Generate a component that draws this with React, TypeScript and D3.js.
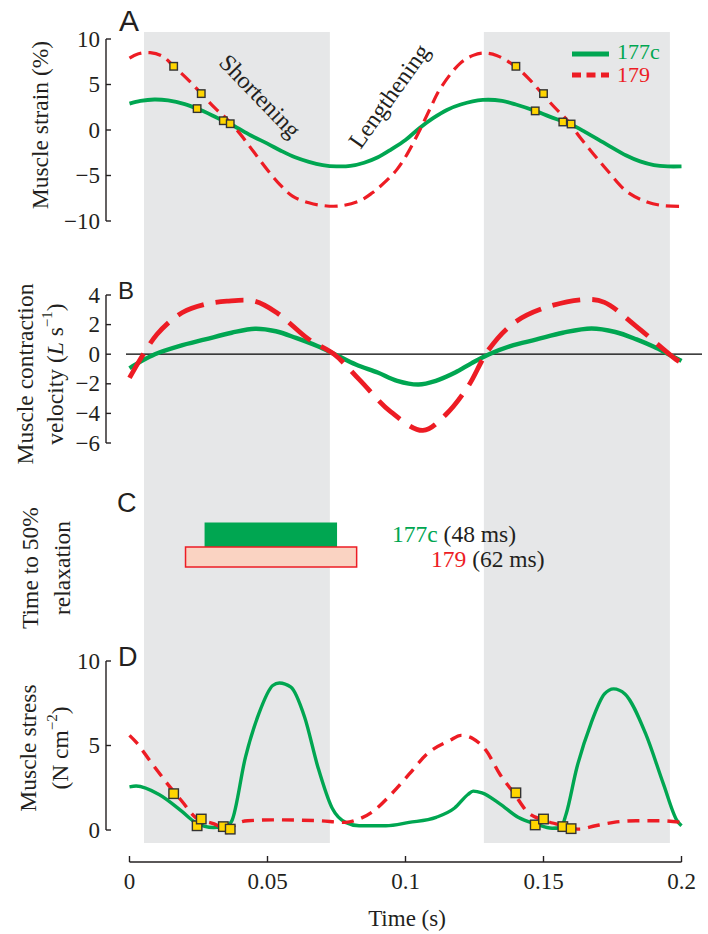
import React from "react";
import * as d3 from "d3";

// ---------- data ----------
const TIME_TICKS = [0, 0.05, 0.1, 0.15, 0.2];
const TIME_TICK_LABELS = ["0", "0.05", "0.1", "0.15", "0.2"];
const SHORTENING_PHASES: [number, number][] = [
  [0.00525, 0.0726],
  [0.1284, 0.1958],
];

const STRAIN_TICKS = [10, 5, 0, -5, -10];
const VELOCITY_TICKS = [4, 2, 0, -2, -4, -6];
const STRESS_TICKS = [10, 5, 0];

const STRAIN_177C: [number, number][] = [
  [0, 2.9], [0.004, 3.2], [0.009, 3.35], [0.014, 3.25], [0.02, 2.85], [0.0245, 2.35],
  [0.03, 1.6], [0.034, 1.0], [0.0375, 0.5], [0.044, -0.6], [0.05, -1.5], [0.055, -2.3],
  [0.06, -3.0], [0.065, -3.5], [0.07, -3.85], [0.075, -4.0], [0.08, -3.95], [0.085, -3.6],
  [0.09, -3.0], [0.095, -2.1], [0.1, -1.1], [0.105, 0.2], [0.11, 1.3], [0.115, 2.2],
  [0.12, 2.8], [0.128, 3.3], [0.135, 3.2], [0.14, 2.8], [0.147, 2.1], [0.152, 1.5],
  [0.157, 0.95], [0.16, 0.6], [0.165, -0.2], [0.173, -1.6], [0.18, -2.8], [0.185, -3.45],
  [0.19, -3.85], [0.195, -4.0], [0.2, -4.0],
];

const STRAIN_179: [number, number][] = [
  [0, 7.9], [0.003, 8.35], [0.0075, 8.5], [0.012, 8.1], [0.016, 7.0], [0.021, 5.6],
  [0.026, 4.0], [0.031, 2.4], [0.0353, 1.2], [0.04, -0.4], [0.045, -2.4], [0.05, -4.4],
  [0.0545, -6.0], [0.0592, -7.3], [0.065, -8.0], [0.07, -8.3], [0.076, -8.35],
  [0.0833, -7.8], [0.088, -6.9], [0.093, -5.6], [0.097, -4.3], [0.1007, -2.6],
  [0.1047, -0.3], [0.109, 2.4], [0.1125, 4.5], [0.1197, 7.3], [0.1245, 8.2],
  [0.1281, 8.45], [0.133, 8.2], [0.1397, 7.0], [0.1448, 5.6], [0.1495, 4.0],
  [0.154, 2.5], [0.1585, 1.1], [0.1632, -0.8], [0.168, -2.6], [0.173, -4.4],
  [0.1803, -6.8], [0.1875, -7.9], [0.193, -8.3], [0.2, -8.4],
];

const VELOCITY_177C: [number, number][] = [
  [0, -0.95], [0.004, -0.5], [0.0092, 0], [0.018, 0.55], [0.0274, 1.0], [0.037, 1.45],
  [0.0455, 1.72], [0.053, 1.55], [0.0603, 1.1], [0.068, 0.55], [0.0743, 0], [0.082, -0.7],
  [0.0899, -1.24], [0.097, -1.8], [0.1047, -2.05], [0.111, -1.8], [0.118, -1.24],
  [0.124, -0.6], [0.1303, 0], [0.138, 0.55], [0.1475, 1.0], [0.157, 1.45], [0.1674, 1.74],
  [0.176, 1.5], [0.1837, 1.0], [0.19, 0.5], [0.1953, 0], [0.2, -0.45],
];

const VELOCITY_179: [number, number][] = [
  [0, -1.6], [0.0099, 1.33], [0.019, 2.8], [0.027, 3.35], [0.0353, 3.58], [0.0453, 3.58],
  [0.0534, 2.8], [0.065, 1.0], [0.0741, 0], [0.0832, -1.7], [0.0947, -3.9], [0.1063, -5.15],
  [0.1145, -4.1], [0.1226, -2.2], [0.1301, 0.3], [0.1392, 2.1], [0.1507, 3.15],
  [0.1654, 3.7], [0.1721, 3.5], [0.1835, 1.9], [0.1984, -0.4], [0.2, -0.55],
];

const STRESS_177C: [number, number][] = [
  [0, 2.55], [0.0024, 2.6], [0.0107, 2.1], [0.019, 1.1], [0.0239, 0.45], [0.0305, 0.15],
  [0.0353, 0.25], [0.0371, 0.55], [0.042, 4.3], [0.0469, 6.9], [0.0519, 8.55],
  [0.0543, 8.7], [0.0585, 8.45], [0.0634, 6.7], [0.0683, 3.7], [0.0734, 1.3],
  [0.0783, 0.45], [0.0832, 0.25], [0.0929, 0.25], [0.1013, 0.45], [0.1111, 0.75],
  [0.1178, 1.3], [0.1226, 2.1], [0.1245, 2.3], [0.1277, 2.2], [0.1342, 1.55],
  [0.1408, 0.75], [0.1473, 0.35], [0.1531, 0.1], [0.1563, 0.15], [0.1582, 0.95],
  [0.1621, 3.7], [0.1672, 6.3], [0.1721, 8.05], [0.1754, 8.35], [0.1795, 8.05],
  [0.187, 5.7], [0.1935, 2.7], [0.1984, 0.55], [0.2, 0.25],
];

const STRESS_179: [number, number][] = [
  [0, 5.6], [0.0024, 5.2], [0.0074, 4.1], [0.0139, 2.7], [0.019, 1.7], [0.0239, 0.75],
  [0.0321, 0.25], [0.0353, -0.15], [0.0386, 0.35], [0.0428, 0.55], [0.0519, 0.6],
  [0.0683, 0.55], [0.0783, 0.45], [0.0832, 0.65], [0.0882, 1.1], [0.0947, 2.1],
  [0.1013, 3.3], [0.1078, 4.5], [0.1161, 5.3], [0.1201, 5.6], [0.1245, 5.4],
  [0.1292, 4.7], [0.1342, 3.3], [0.1392, 2.2], [0.144, 1.1], [0.1507, 0.55],
  [0.1573, 0.25], [0.163, 0.05], [0.1688, 0.25], [0.1754, 0.45], [0.1835, 0.55],
  [0.1918, 0.55], [0.2, 0.45],
];

const MARKER_T = [0.016, 0.0245, 0.026, 0.034, 0.0365, 0.14, 0.147, 0.15, 0.157, 0.16];
const MARKER_STRAIN = [7.0, 2.35, 4.0, 1.02, 0.69, 7.0, 2.1, 4.0, 0.88, 0.66];
const MARKER_STRESS = [2.15, 0.25, 0.65, 0.2, 0.05, 2.2, 0.3, 0.65, 0.2, 0.08];

const SERIES = ["177c", "179"];
const RELAX_START = [0.0272, 0.0203];
const RELAX_MS = [48, 62];

// ---------- style ----------
const GREEN = "#00a651";
const RED = "#ed1c24";
const PINK = "#fad3c2";
const SHADE = "#e6e7e8";
const INK = "#231f20";
const YELLOW = "#ffd500";
const SERIF = "Liberation Serif, Times New Roman, serif";
const SANS = "Liberation Sans, Arial, sans-serif";

export default function App() {
  const x = d3.scaleLinear().domain([0, 0.2]).range([129.5, 681.5]);
  const yA = d3.scaleLinear().domain([-10, 10]).range([221, 39]);
  const yB = d3.scaleLinear().domain([-6, 4]).range([443, 295]);
  const yD = d3.scaleLinear().domain([0, 10]).range([830, 661]);

  const mk = (y: d3.ScaleLinear<number, number>, curve: d3.CurveFactory) =>
    d3
      .line<[number, number]>()
      .x((d) => x(d[0]))
      .y((d) => y(d[1]))
      .curve(curve);

  const lineA = mk(yA, d3.curveCatmullRom.alpha(0.5));
  const lineB = mk(yB, d3.curveCatmullRom.alpha(0.5));
  const lineD = mk(yD, d3.curveMonotoneX);

  const axisX = 106;

  const yAxis = (
    y: d3.ScaleLinear<number, number>,
    ticks: number[],
    key: string
  ) => {
    const [lo, hi] = y.domain();
    return (
      <g key={key}>
        <line x1={axisX} x2={axisX} y1={y(hi)} y2={y(lo)} stroke={INK} strokeWidth={1.4} />
        {ticks.map((t) => (
          <g key={t}>
            <line x1={axisX} x2={axisX + 5} y1={y(t)} y2={y(t)} stroke={INK} strokeWidth={1.4} />
            <text
              x={axisX - 6}
              y={y(t)}
              textAnchor="end"
              dominantBaseline="central"
              fontFamily={SERIF}
              fontSize={23}
              fill={INK}
            >
              {t < 0 ? "\u2212" + Math.abs(t) : String(t)}
            </text>
          </g>
        ))}
      </g>
    );
  };

  const markers = (
    y: d3.ScaleLinear<number, number>,
    vals: number[],
    size: number,
    key: string
  ) => (
    <g key={key}>
      {MARKER_T.map((t, i) => (
        <rect
          key={i}
          x={x(t) - size / 2}
          y={y(vals[i]) - size / 2}
          width={size}
          height={size}
          fill={YELLOW}
          stroke="#333"
          strokeWidth={1.4}
        />
      ))}
    </g>
  );

  const rotTitle = (lines: React.ReactNode[], xs: number[], cy: number, key: string) => (
    <g key={key}>
      {lines.map((l, i) => (
        <text
          key={i}
          transform={`translate(${xs[i]},${cy}) rotate(-90)`}
          textAnchor="middle"
          dominantBaseline="central"
          fontFamily={SERIF}
          fontSize={23.5}
          fill={INK}
        >
          {l}
        </text>
      ))}
    </g>
  );

  const letter = (s: string, lx: number, ly: number, size: number) => (
    <text x={lx} y={ly} fontFamily={SANS} fontSize={size} fill={INK}>
      {s}
    </text>
  );

  return (
    <div style={{ position: "absolute", left: 0, top: 0 }}>
      <svg width={708} height={934} style={{ display: "block", background: "#fff" }}>
        {/* shading */}
        {SHORTENING_PHASES.map(([a, b], i) => (
          <rect key={i} x={x(a)} y={32} width={x(b) - x(a)} height={843 - 32} fill={SHADE} />
        ))}

        {/* panel letters */}
        {letter("A", 119, 31, 30)}
        {letter("B", 118, 299, 24)}
        {letter("C", 117, 512, 27)}
        {letter("D", 118, 666, 27)}

        {/* Panel A */}
        {yAxis(yA, STRAIN_TICKS, "ya")}
        {rotTitle(["Muscle strain (%)"], [40], 125, "ta")}
        <path d={lineA(STRAIN_177C) || ""} fill="none" stroke={GREEN} strokeWidth={3.8} />
        <path
          d={lineA(STRAIN_179) || ""}
          fill="none"
          stroke={RED}
          strokeWidth={3.2}
          strokeDasharray="13 7"
        />
        {markers(yA, MARKER_STRAIN, 7.5, "ma")}
        <text
          transform="translate(260,96) rotate(46)"
          textAnchor="middle"
          dominantBaseline="central"
          fontFamily={SERIF}
          fontSize={24}
          fill={INK}
        >
          Shortening
        </text>
        <text
          transform="translate(389,96) rotate(-54.6)"
          textAnchor="middle"
          dominantBaseline="central"
          fontFamily={SERIF}
          fontSize={24}
          fill={INK}
        >
          Lengthening
        </text>
        {/* legend */}
        <line x1={572} x2={609} y1={54} y2={54} stroke={GREEN} strokeWidth={5} />
        <line
          x1={572}
          x2={609}
          y1={75}
          y2={75}
          stroke={RED}
          strokeWidth={5}
          strokeDasharray="9 5.5"
        />
        <text x={617} y={59} fontFamily={SERIF} fontSize={22} fill={GREEN}>
          {SERIES[0]}
        </text>
        <text x={617} y={82} fontFamily={SERIF} fontSize={22} fill={RED}>
          {SERIES[1]}
        </text>

        {/* Panel B */}
        {yAxis(yB, VELOCITY_TICKS, "yb")}
        {rotTitle(
          [
            "Muscle contraction",
            <>
              velocity (<tspan fontStyle="italic">L</tspan> s
              <tspan dy={-8} fontSize={15}>
                {"\u22121"}
              </tspan>
              <tspan dy={8}>)</tspan>
            </>,
          ],
          [25, 55],
          374,
          "tb"
        )}
        <line x1={126} x2={702} y1={yB(0)} y2={yB(0)} stroke="#000" strokeWidth={1.2} />
        <path d={lineB(VELOCITY_177C) || ""} fill="none" stroke={GREEN} strokeWidth={4.4} />
        <path
          d={lineB(VELOCITY_179) || ""}
          fill="none"
          stroke={RED}
          strokeWidth={4.8}
          strokeDasharray="28 12"
        />

        {/* Panel C */}
        {rotTitle(["Time to 50%", "relaxation"], [30, 62], 568, "tc")}
        <rect
          x={x(RELAX_START[0])}
          y={522.5}
          width={x(RELAX_START[0] + RELAX_MS[0] / 1000) - x(RELAX_START[0])}
          height={24.5}
          fill={GREEN}
        />
        <rect
          x={x(RELAX_START[1])}
          y={547}
          width={x(RELAX_START[1] + RELAX_MS[1] / 1000) - x(RELAX_START[1])}
          height={20}
          fill={PINK}
          stroke={RED}
          strokeWidth={1.5}
        />
        <text x={392} y={542} fontFamily={SERIF} fontSize={23.5} fill={INK}>
          <tspan fill={GREEN}>{SERIES[0]}</tspan> ({RELAX_MS[0]} ms)
        </text>
        <text x={431} y={567} fontFamily={SERIF} fontSize={23.5} fill={INK}>
          <tspan fill={RED}>{SERIES[1]}</tspan> ({RELAX_MS[1]} ms)
        </text>

        {/* Panel D */}
        {yAxis(yD, STRESS_TICKS, "yd")}
        {rotTitle(
          [
            "Muscle stress",
            <>
              (N  cm
              <tspan dy={-8} fontSize={15}>
                {"\u22122"}
              </tspan>
              <tspan dy={8}>)</tspan>
            </>,
          ],
          [28, 60],
          748,
          "td"
        )}
        <path d={lineD(STRESS_177C) || ""} fill="none" stroke={GREEN} strokeWidth={3.4} />
        <path
          d={lineD(STRESS_179) || ""}
          fill="none"
          stroke={RED}
          strokeWidth={3.4}
          strokeDasharray="12 8"
        />
        {markers(yD, MARKER_STRESS, 9.5, "md")}

        {/* X axis */}
        <g>
          <line x1={x(0)} x2={x(0.2)} y1={862} y2={862} stroke={INK} strokeWidth={1.4} />
          {TIME_TICKS.map((t, i) => (
            <g key={t}>
              <line x1={x(t)} x2={x(t)} y1={856} y2={862} stroke={INK} strokeWidth={1.4} />
              <text
                x={x(t)}
                y={889}
                textAnchor="middle"
                fontFamily={SERIF}
                fontSize={23}
                fill={INK}
              >
                {TIME_TICK_LABELS[i]}
              </text>
            </g>
          ))}
          <text x={407} y={926} textAnchor="middle" fontFamily={SERIF} fontSize={23} fill={INK}>
            Time (s)
          </text>
        </g>
      </svg>
    </div>
  );
}
